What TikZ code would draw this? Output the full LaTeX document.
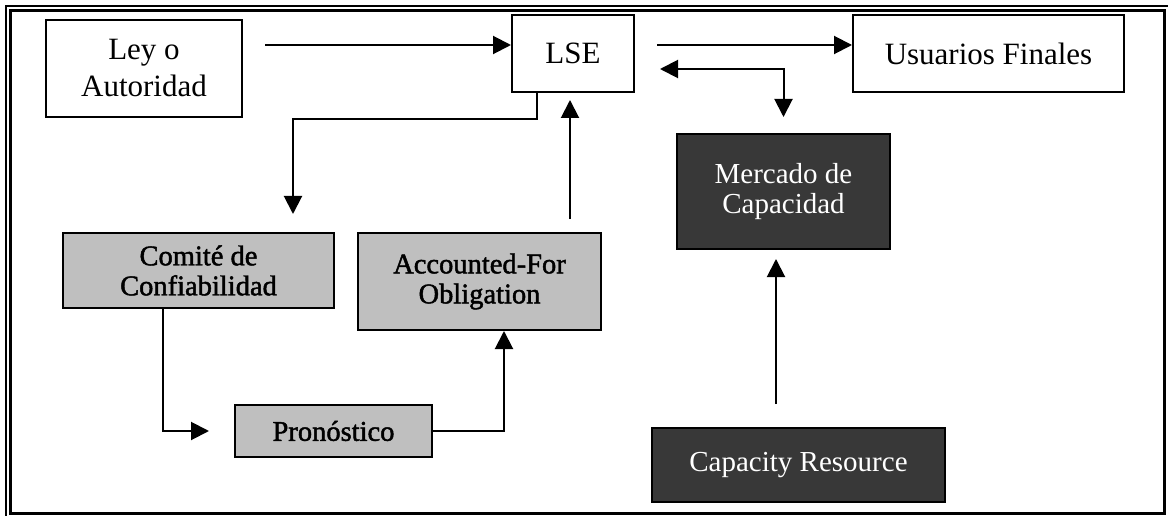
\documentclass[tikz,border=0pt]{standalone}
\usepackage{fontspec}
\setmainfont{Liberation Serif}
\newfontfamily\fakebold[FakeBold=1.6]{Liberation Serif}
\usetikzlibrary{arrows.meta,positioning}

\begin{document}
\begin{tikzpicture}[x=1pt,y=-1pt,>={Triangle[length=18pt,width=18pt]},
  plain/.style={draw,line width=2pt,fill=white,align=center,inner sep=0pt,
    font=\fontsize{31}{37}\selectfont},
  grey/.style={draw,line width=2pt,fill=black!25,align=center,inner sep=0pt,
    font=\fakebold\fontsize{28.5}{30}\selectfont},
  dark/.style={draw,line width=2pt,fill=black!78,text=white,align=center,inner sep=0pt,
    font=\fontsize{29}{30}\selectfont},
  arr/.style={->,line width=2pt}]
\useasboundingbox (0,0) rectangle (1168,516);
% frame
\draw[line width=2.5pt] (10.5,10.5) rectangle (1164.5,513.5);
\draw[line width=2.5pt] (6,516) -- (6,6) -- (1168,6);

% boxes
\node[plain,minimum width=196pt,minimum height=97pt] (ley) at (144,68.5) {Ley o\\Autoridad};
\node[plain,minimum width=122pt,minimum height=77pt] (lse) at (573,53.5) {LSE};
\node[plain,minimum width=271pt,minimum height=77pt] (usu) at (988.5,53.5) {Usuarios Finales};
\node[grey,minimum width=271pt,minimum height=75pt] (comite) at (198.5,270.5) {Comit\'e de\\Confiabilidad};
\node[grey,minimum width=243pt,minimum height=97pt] (acc) at (479.5,281.5) {Accounted-For\\Obligation};
\node[grey,minimum width=197pt,minimum height=52pt] (pron) at (333.5,431) {Pron\'ostico};
\node[dark,minimum width=213pt,minimum height=115pt] (merc) at (783.5,191.5) {Mercado de\\Capacidad};
\node[dark,minimum width=293pt,minimum height=74pt] (cap) at (798.5,465) {Capacity Resource};

% connectors
\coordinate (a1) at (265,45);
\coordinate (a2) at (657,45);
\coordinate (a3) at (660,69);
\draw[arr] (a1) -- (a1 -| lse.west);
\draw[arr] (a2) -- (a2 -| usu.west);
\draw[<->,line width=2pt] (a3) -| ([yshift=16pt]merc.north);
\draw[arr] ([xshift=-36pt]lse.south) -- ++(0,26) -| ([xshift=94.5pt,yshift=18pt]comite.north);
\draw[arr] ([xshift=90.5pt,yshift=13pt]acc.north) -- ([xshift=-3pt,yshift=-7pt]lse.south);
\draw[arr] ([xshift=-35.5pt]comite.south) |- ([xshift=-25pt]pron.west);
\draw[arr] (pron.east) -| ([xshift=24.5pt]acc.south);
\draw[arr] ([xshift=-22.5pt,yshift=23pt]cap.north) -- ([xshift=-7.5pt,yshift=-9pt]merc.south);
\end{tikzpicture}
\end{document}
